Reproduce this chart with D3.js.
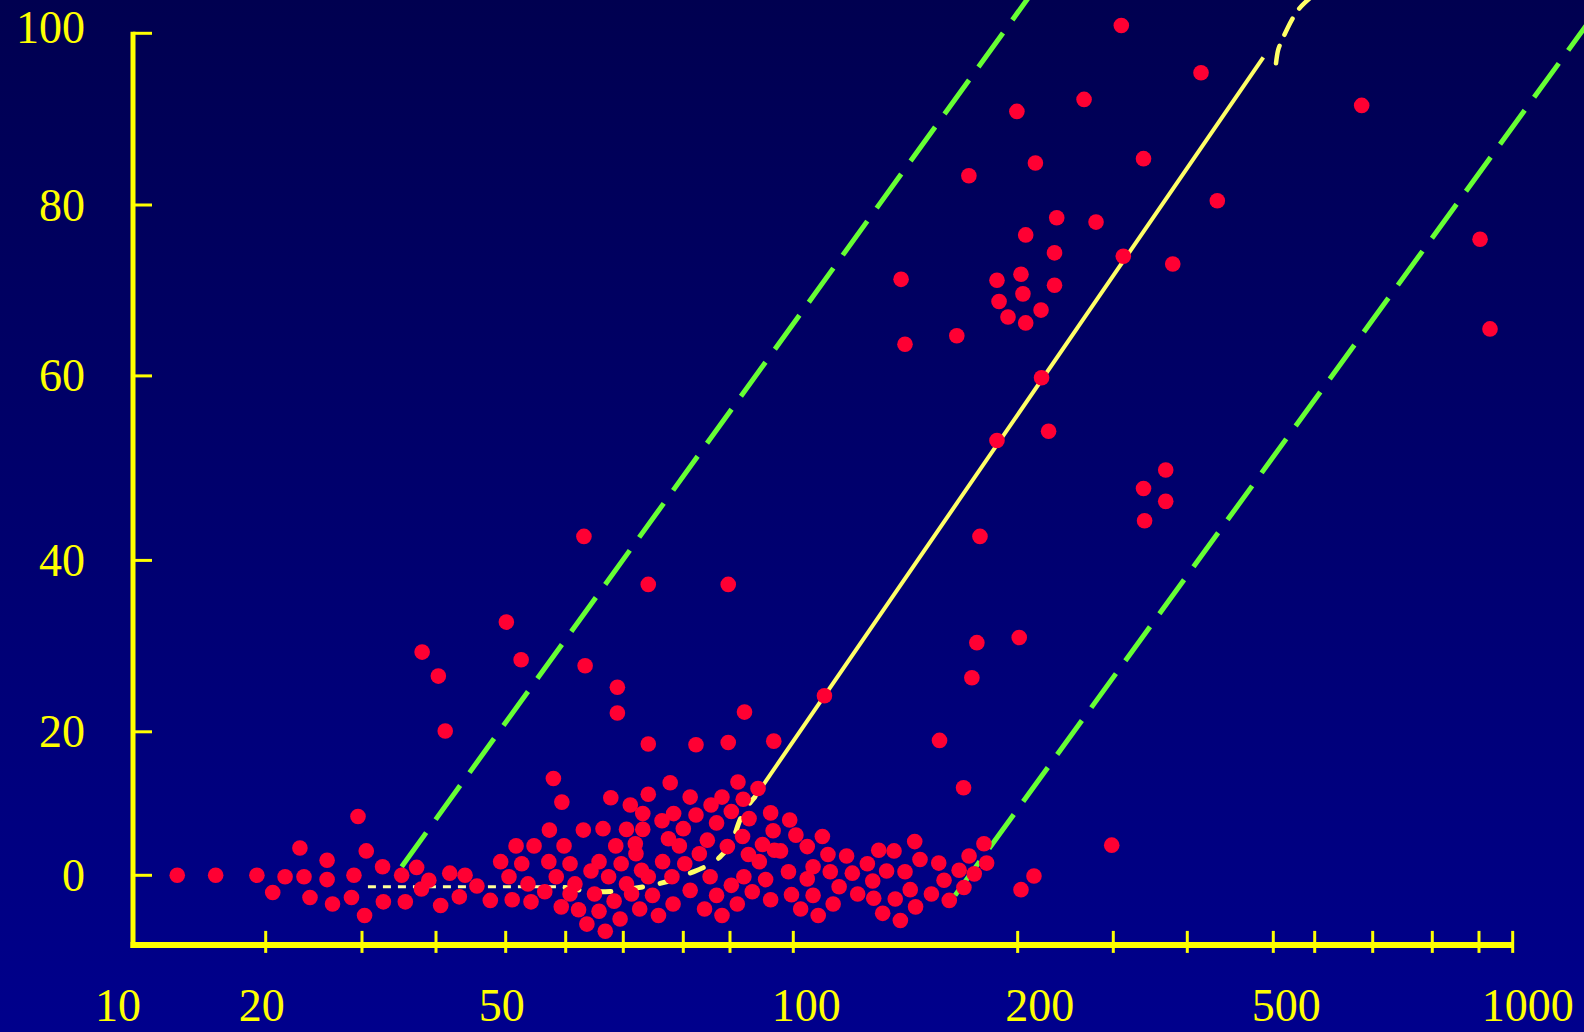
<!DOCTYPE html>
<html>
<head>
<meta charset="utf-8">
<script src="https://cdn.jsdelivr.net/npm/d3@7"></script>
<style>
  html, body { margin: 0; padding: 0; background: #000070; }
  svg { display: block; }
</style>
</head>
<body>
<script>
// tick values on the (hand drawn) log axis and the linear y axis
const xTickValues = [10, 20, 30, 40, 50, 60, 70, 80, 90, 100, 200, 300, 400, 500, 600, 700, 800, 900, 1000];
const xTickLabels = [10, 20, 50, 100, 200, 500, 1000];
const yTickValues = [0, 20, 40, 60, 80, 100];
const yAxisMin = -9.7;

// measured points [x, y]
const points = [
  [12.6,0],[15.4,0],[19.1,0],[20.6,-2.4],[21.7,-0.2],[23.1,3.8],[23.5,-0.2],[24.1,-3.1],[25.9,2.1],[25.9,-0.6],
  [26.5,-4.0],[29.0,0],[28.7,-3.1],[29.5,8.2],[30.5,3.4],[30.3,-5.6],[32.5,1.2],[32.6,-3.7],
  [35.0,0],[35.5,-3.7],[37.1,1.1],[37.8,-1.9],[38.9,-0.7],[40.6,-4.2],[41.8,0.3],[43.1,-3.0],[43.9,0],[45.6,-1.5],
  [47.6,-3.5],[49.2,1.9],
  [50.5,-0.2],[51.0,-3.4],[51.6,4.1],[52.5,1.6],[53.5,-1.2],[54.0,-3.7],[54.5,4.1],[56.3,-2.3],[57.0,1.9],[57.1,6.3],
  [57.8,13.5],[59.3,10.2],[58.3,-0.2],[59.2,-4.4],[59.7,4.1],
  [60.7,1.6],[61.5,-1.2],[60.7,-2.6],[62.1,-4.8],[62.9,6.3],[63.5,-6.8],[64.2,0.6],[65.6,1.9],[64.8,-2.6],[65.6,-5.0],
  [66.3,6.5],[66.7,-7.8],[67.3,-0.2],[68.3,-3.6],[67.7,10.8],[68.6,4.1],[69.4,-6.1],[69.6,1.6],
  [70.5,6.4],[70.5,-1.2],[71.1,9.8],[71.9,4.4],[72.0,3.0],[71.3,-2.6],[72.6,-4.7],[73.1,8.6],[73.1,6.4],[72.9,0.7],
  [74.0,11.3],[74.0,-0.2],[74.7,-2.8],[75.7,-5.6],[76.3,7.6],[76.4,1.9],[77.4,5.1],[77.7,12.9],[78.3,8.6],[78.0,-0.2],
  [78.2,-4.0],[79.3,4.1],[80.0,6.5],
  [80.3,1.6],[81.4,10.9],[81.4,-2.1],[82.6,8.4],[83.3,3.0],[84.4,-4.7],[85.0,4.9],[85.6,-0.2],[85.8,9.8],[87.0,7.3],
  [87.0,-2.8],[88.2,10.9],[88.2,-5.6],[89.4,4.0],
  [90.2,8.9],[90.2,-1.4],[91.2,13.0],[91.1,-4.0],[91.9,5.4],[92.1,-0.2],[92.0,10.6],[92.9,7.9],[92.8,2.9],[93.4,-2.3],
  [94.3,12.1],[94.5,1.9],[95.0,4.3],[95.5,-0.6],[96.3,8.7],[96.3,-3.4],[96.7,6.2],[96.9,3.5],[97.9,3.4],[99.2,0.5],
  [99.4,7.7],[100.8,5.6],[99.7,-2.7],
  [102.3,-4.7],[104.4,4.0],[106.3,1.2],[104.4,-0.5],[106.3,-2.8],[108.0,-5.6],[109.4,5.4],[111.3,2.9],[112.1,0.5],
  [115.2,-1.6],[113.1,-4.0],[117.9,2.7],[120.0,0.3],[122.0,-2.6],[125.7,1.6],[127.8,-0.8],[128.2,-3.2],[130.2,3.5],
  [131.8,-5.3],[133.4,0.6],[136.5,3.4],[137.0,-3.3],[139.2,-6.3],[141.2,0.5],[143.5,-2.0],[145.5,4.7],[147.9,2.2],
  [145.9,-4.4],[153.2,-2.6],[156.7,1.7],[159.3,-0.7],[161.9,-3.5],[166.9,0.7],[172.1,2.7],[169.4,-1.7],[174.9,0.2],
  [180.2,4.4],[181.7,1.7],[169.2,12.2],
  [298,4.2],[214.3,-0.1],[202.8,-2.0],
  [74.0,18.3],[82.6,18.2],[89.6,18.5],[96.8,18.7],[157.1,18.8],[92.2,22.3],[68.9,22.2],[68.9,25.2],[110.1,24.2],
  [41.2,20.1],[173.6,26.3],[40.3,26.5],[63.2,27.7],[52.4,28.4],[37.9,29.3],[176.3,30.4],[201.3,31.0],[50.1,32.8],
  [74.0,37.2],[89.6,37.2],[63.0,42.6],[178.0,42.6],[338.8,44.3],[367.8,46.4],[337.4,47.8],[367.8,49.8],[228,54.0],
  [187.6,53.0],[221.3,59.8],[141.2,63.7],[165.7,64.7],[931.5,65.5],[206.9,66.2],[194.1,66.9],[220.8,67.7],[188.8,68.7],
  [204.5,69.6],[233.8,70.6],[187.6,71.2],[139.5,71.3],[202.8,71.9],[378,73.1],[311.9,74.0],[233.8,74.4],[903,76.0],
  [206.9,76.5],[278.8,78.0],[236,78.5],[432.4,80.5],[172,83.4],[215.6,84.9],[337.4,85.4],[679.8,91.6],[199.5,90.9],
  [265,92.3],[414.5,95.4],[309.5,100.9]
];

// band limits (green), trend line and its tails (yellow)
const upperLimit = [[35.0, 1.2], [210.7, 104.4]];
const lowerLimit = [[164.8, -2.8], [1273, 101.5]];
const trendLine = [[93.8, 10.9], [487.2, 97.2]];
const trendTop = [[506, 96.5], [510.5, 98.0], [519.5, 99.2], [533.5, 100.7], [557.5, 102.7], [587.7, 104.1]];
const baseFlat = [[30.7, -1.6], [59.9, -1.6]];
const baseCurve = [[59.9, -1.7], [65.8, -2.3], [68.5, -2.2], [71.8, -1.8], [74.5, -1.4], [79.4, -0.3], [81.0, 0.2],
  [84.5, 1.2], [87.8, 2.6], [90.4, 4.9], [91.5, 7.7], [93.8, 10.9]];

const W = 1584, H = 1032;

const svg = d3.select("body").append("svg")
  .attr("width", W)
  .attr("height", H);

const grad = svg.append("defs").append("linearGradient")
  .attr("id", "bg")
  .attr("x1", 0).attr("y1", 0).attr("x2", 0).attr("y2", 1);
grad.append("stop").attr("offset", "0%").attr("stop-color", "#000050");
grad.append("stop").attr("offset", "100%").attr("stop-color", "#00008c");

svg.append("rect")
  .attr("width", W)
  .attr("height", H)
  .attr("fill", "url(#bg)");

// hand placed ticks -> piecewise log scale
const x = d3.scaleLog()
  .domain(xTickValues)
  .range([133, 265.7, 362, 436, 505.7, 565.7, 623.3, 683.3, 730, 793.3,
          1017.7, 1113.3, 1187.3, 1273.3, 1314.7, 1372.7, 1432.3, 1479, 1512.7]);

const y = d3.scaleLinear()
  .domain(yTickValues)
  .range([875.3, 731.8, 560.4, 375.9, 205, 33.3]);

const line = d3.line().x(d => x(d[0])).y(d => y(d[1]));

// Lines
svg.append("path")
  .attr("d", line(upperLimit))
  .attr("fill", "none")
  .attr("stroke", "#66ff33")
  .attr("stroke-width", 5)
  .attr("stroke-dasharray", "42,16");

svg.append("path")
  .attr("d", line(lowerLimit))
  .attr("fill", "none")
  .attr("stroke", "#66ff33")
  .attr("stroke-width", 5)
  .attr("stroke-dasharray", "42,16");

svg.append("path")
  .attr("d", line(trendLine))
  .attr("fill", "none")
  .attr("stroke", "#ffff66")
  .attr("stroke-width", 4);

svg.append("path")
  .attr("d", line.curve(d3.curveNatural)(trendTop))
  .attr("fill", "none")
  .attr("stroke", "#ffff66")
  .attr("stroke-width", 4.5)
  .attr("stroke-linecap", "round")
  .attr("stroke-dasharray", "18,12");

svg.append("path")
  .attr("d", line.curve(d3.curveLinear)(baseFlat))
  .attr("fill", "none")
  .attr("stroke", "#ffff99")
  .attr("stroke-width", 3)
  .attr("stroke-dasharray", "8,7");

svg.append("path")
  .attr("d", line.curve(d3.curveMonotoneX)(baseCurve))
  .attr("fill", "none")
  .attr("stroke", "#ffff66")
  .attr("stroke-width", 5)
  .attr("stroke-linecap", "round")
  .attr("stroke-dasharray", "14,18");

// Points
svg.selectAll(".dot")
  .data(points)
  .enter()
  .append("circle")
    .attr("class", "dot")
    .attr("cx", d => x(d[0]))
    .attr("cy", d => y(d[1]))
    .attr("r", 7.8)
    .attr("fill", "#ff0033");

// Axes
const axisColor = "#ffff00";
const x0 = x(xTickValues[0]);
const yBase = y(yAxisMin);

svg.append("line")
  .attr("x1", x0).attr("x2", x0)
  .attr("y1", y(100) - 1.5).attr("y2", yBase + 3)
  .attr("stroke", axisColor).attr("stroke-width", 5);

svg.append("line")
  .attr("x1", x0 - 2.5).attr("x2", x(1000))
  .attr("y1", yBase).attr("y2", yBase)
  .attr("stroke", axisColor).attr("stroke-width", 6);

svg.selectAll(".ytick")
  .data(yTickValues)
  .enter()
  .append("line")
    .attr("class", "ytick")
    .attr("x1", x0).attr("x2", x0 + 19)
    .attr("y1", d => y(d)).attr("y2", d => y(d))
    .attr("stroke", axisColor).attr("stroke-width", 3);

svg.selectAll(".xtick")
  .data(xTickValues.slice(1))
  .enter()
  .append("line")
    .attr("class", "xtick")
    .attr("x1", d => x(d)).attr("x2", d => x(d))
    .attr("y1", yBase - 14).attr("y2", yBase + 8)
    .attr("stroke", axisColor).attr("stroke-width", 3);

// Labels
svg.selectAll(".ylabel")
  .data(yTickValues)
  .enter()
  .append("text")
    .attr("class", "ylabel")
    .attr("x", 85)
    .attr("y", d => d === 100 ? y(d) + 10 : y(d) + 15.5)
    .attr("text-anchor", "end")
    .attr("font-family", "'Liberation Serif', 'Times New Roman', serif")
    .attr("font-size", 46)
    .attr("fill", axisColor)
    .text(d => d);

const labelNudge = {10: -15, 20: -4, 50: -4, 100: 13, 200: 22, 500: 13, 1000: 15};
svg.selectAll(".xlabel")
  .data(xTickLabels)
  .enter()
  .append("text")
    .attr("class", "xlabel")
    .attr("x", d => x(d) + labelNudge[d])
    .attr("y", 1021)
    .attr("text-anchor", "middle")
    .attr("font-family", "'Liberation Serif', 'Times New Roman', serif")
    .attr("font-size", 46)
    .attr("fill", axisColor)
    .text(d => d);
</script>
</body>
</html>
